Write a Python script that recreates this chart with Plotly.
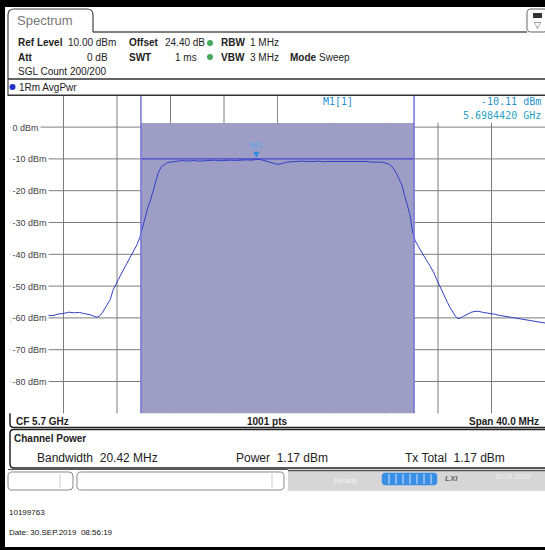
import plotly.graph_objects as go

W, H = 545, 550


def X(p):
    return p / W


def Y(p):
    return 1 - p / H


# ---------------- data ----------------
CF_GHZ = 5.7
SPAN_MHZ = 40.0
REF_LEVEL_DBM = 10.0
BOTTOM_LEVEL_DBM = -90.0
CHANNEL_BW_MHZ = 20.42
MARKER_FREQ_GHZ = 5.6984420
MARKER_LEVEL_DBM = -10.11

offset_mhz = [
    -20.0, -19.6, -19.2, -18.8, -18.4, -18.0, -17.6, -17.2, -16.8, -16.4,
    -16.0, -15.6, -15.2, -14.8, -14.4, -14.0, -13.7, -13.5, -13.3, -13.1,
    -12.9, -12.7, -12.5, -12.3, -12.1, -11.9, -11.7, -11.5, -11.3, -11.1,
    -10.9, -10.7, -10.5, -10.3, -10.1, -9.9, -9.7, -9.5, -9.3, -9.1,
    -8.9, -8.7, -8.5, -8.3,
    -8.0, -7.7, -7.4, -7.1, -6.8, -6.5, -6.2, -5.9, -5.6, -5.3,
    -5.0, -4.7, -4.4, -4.1, -3.8, -3.5, -3.2, -2.9, -2.6, -2.3, -2.0,
    -1.75, -1.45, -1.2, -0.9, -0.6, -0.3, 0.0, 0.3, 0.6,
    1.0, 1.3, 1.6, 1.9, 2.2, 2.5, 2.8, 3.1, 3.4, 3.7, 4.0, 4.3,
    4.6, 4.9, 5.2, 5.5, 5.8, 6.1, 6.4, 6.7, 7.0, 7.3, 7.6, 7.9,
    8.1, 8.3, 8.5, 8.7, 8.9, 9.1, 9.3, 9.5, 9.7, 9.9, 10.1, 10.3,
    10.5, 10.7, 10.9, 11.1, 11.3, 11.5, 11.7, 11.9, 12.1, 12.3, 12.5,
    12.7, 12.9, 13.1, 13.3, 13.5, 13.7, 13.9, 14.1, 14.3, 14.5, 14.7,
    15.0, 15.4, 15.8, 16.2, 16.6, 17.0, 17.4, 17.8, 18.2, 18.6, 19.0,
    19.4, 19.7, 20.0,
]

level_dbm = [
    -61.3, -61.0, -61.4, -60.6, -60.4, -59.9, -59.8, -59.2, -59.3, -58.8,
    -58.6, -58.2, -58.4, -58.3, -58.7, -59.0, -59.5, -59.8, -59.4, -58.4,
    -57.0, -55.6, -54.2, -51.3, -49.4, -48.0, -46.3, -44.8, -43.1, -41.6,
    -40.0, -38.6, -36.9, -34.8, -31.5, -28.5, -25.5, -23.0, -20.0, -16.8,
    -14.2, -12.6, -11.8, -11.3,
    -11.0, -10.8, -10.7, -10.5, -10.7, -10.6, -10.5, -10.7, -10.6, -10.5,
    -10.6, -10.4, -10.6, -10.5, -10.6, -10.4, -10.5, -10.4, -10.5, -10.3, -10.4,
    -10.3, -10.11, -10.3, -10.6, -11.0, -11.4, -11.7, -11.5, -11.1,
    -10.9, -10.8, -10.9, -10.7, -10.8, -10.9, -10.8, -10.7, -10.9, -10.8, -10.8, -10.7,
    -10.9, -10.8, -10.7, -10.8, -10.9, -10.8, -10.9, -10.8, -11.0, -10.9, -11.0, -11.1,
    -11.3, -11.6, -12.2, -13.2, -14.6, -16.3, -18.2, -21.5, -24.2, -27.5, -33.0, -35.8,
    -37.3, -38.9, -40.3, -41.6, -42.9, -44.2, -45.9, -47.9, -49.8, -51.6, -53.4,
    -55.1, -56.7, -58.2, -59.5, -60.2, -60.0, -59.5, -59.0, -58.6, -58.2, -58.0,
    -57.9, -58.3, -58.5, -58.8, -59.2, -59.5, -59.9, -60.2, -60.5, -60.8, -61.0,
    -61.3, -61.4, -61.6,
]

grid_freq_ghz = [5.684, 5.688, 5.692, 5.696, 5.700, 5.704, 5.708, 5.712, 5.716]
y_tick_vals = [0, -10, -20, -30, -40, -50, -60, -70, -80]
y_tick_text = ["0 dBm", "-10 dBm", "-20 dBm", "-30 dBm", "-40 dBm",
               "-50 dBm", "-60 dBm", "-70 dBm", "-80 dBm"]

freq_ghz = [CF_GHZ + o / 1000.0 for o in offset_mhz]
f_start = CF_GHZ - SPAN_MHZ / 2000.0
f_stop = CF_GHZ + SPAN_MHZ / 2000.0
ch_lo = CF_GHZ - CHANNEL_BW_MHZ / 2000.0
ch_hi = CF_GHZ + CHANNEL_BW_MHZ / 2000.0

# ---------------- figure ----------------
PLOT_TOP = 95.3
PLOT_BOT = 413.3
FONT = "Liberation Sans"
MONO = "DejaVu Sans Mono"

fig = go.Figure()
fig.add_trace(go.Scatter(
    x=freq_ghz, y=level_dbm, mode="lines",
    line=dict(color="#3340c8", width=1), hoverinfo="skip", showlegend=False,
))

shapes = []
annotations = []


def rect(x0, y0, x1, y1, fill=None, line=None, lw=1, layer="above"):
    shapes.append(dict(type="rect", xref="paper", yref="paper",
                       x0=X(x0), x1=X(x1), y0=Y(y1), y1=Y(y0),
                       fillcolor=fill if fill else "rgba(0,0,0,0)",
                       line=dict(color=line if line else "rgba(0,0,0,0)", width=lw if line else 0),
                       layer=layer))


def hline(x0, x1, y, color="#333", lw=1, layer="above"):
    shapes.append(dict(type="line", xref="paper", yref="paper",
                       x0=X(x0), x1=X(x1), y0=Y(y), y1=Y(y),
                       line=dict(color=color, width=lw), layer=layer))


def vline(x, y0, y1, color="#333", lw=1, layer="above"):
    shapes.append(dict(type="line", xref="paper", yref="paper",
                       x0=X(x), x1=X(x), y0=Y(y0), y1=Y(y1),
                       line=dict(color=color, width=lw), layer=layer))


def path(d_pts, color="#444", lw=1, fill=None, layer="above"):
    shapes.append(dict(type="path", xref="paper", yref="paper", path=d_pts,
                       line=dict(color=color, width=lw),
                       fillcolor=fill if fill else "rgba(0,0,0,0)", layer=layer))


def P(x, y):
    return f"{X(x):.5f},{Y(y):.5f}"


def rrect(x0, y0, x1, y1, r=4, color="#888", lw=1, fill=None):
    d = (f"M {P(x0 + r, y0)} L {P(x1 - r, y0)} Q {P(x1, y0)} {P(x1, y0 + r)} "
         f"L {P(x1, y1 - r)} Q {P(x1, y1)} {P(x1 - r, y1)} L {P(x0 + r, y1)} "
         f"Q {P(x0, y1)} {P(x0, y1 - r)} L {P(x0, y0 + r)} Q {P(x0, y0)} {P(x0 + r, y0)} Z")
    path(d, color=color, lw=lw, fill=fill)


def txt(x, y, s, size=10, color="#222", anchor="left", family=FONT, bg=None):
    a = dict(xref="paper", yref="paper", x=X(x), y=Y(y), text=s, showarrow=False,
             xanchor=anchor, yanchor="middle",
             font=dict(family=family, size=size, color=color))
    if bg:
        a["bgcolor"] = bg
        a["borderpad"] = 0
    annotations.append(a)


# --- grid lines (drawn as shapes below the channel box)
GRID = "#7c7c7c"
for gx in grid_freq_ghz:
    shapes.append(dict(type="line", xref="x", yref="paper", x0=gx, x1=gx,
                       y0=Y(PLOT_BOT), y1=Y(PLOT_TOP), line=dict(color=GRID, width=1),
                       layer="below"))
for gy in y_tick_vals:
    shapes.append(dict(type="line", xref="paper", yref="y", x0=X(10), x1=1.0,
                       y0=gy, y1=gy, line=dict(color=GRID, width=1), layer="below"))

# --- channel box
shapes.append(dict(type="rect", xref="x", yref="paper", x0=ch_lo, x1=ch_hi,
                   y0=Y(PLOT_BOT), y1=Y(123), fillcolor="#9d9dc6",
                   line=dict(width=0), layer="below"))
shapes.append(dict(type="line", xref="x", yref="y", x0=ch_lo, x1=ch_hi,
                   y0=-10, y1=-10, line=dict(color="#4444cc", width=1.2), layer="below"))

# marker info white cell
rect(278, PLOT_TOP + 0.8, 545, 122.8, fill="white")
vline(277.5, PLOT_TOP, 123, color="#888")
for xc in (ch_lo, ch_hi):
    shapes.append(dict(type="line", xref="x", yref="paper", x0=xc, x1=xc,
                       y0=Y(PLOT_BOT), y1=Y(PLOT_TOP), line=dict(color="#7474d8", width=1.5),
                       layer="above"))

# --- outer frame
rect(0, 0, 545, 7, fill="black")
rect(0, 0, 5, 550, fill="black")
rect(0, 547, 545, 550, fill="black")

# tab
path(f"M {P(8, 32)} L {P(8, 15)} Q {P(8, 9)} {P(14, 9)} L {P(87, 9)} Q {P(93, 9)} {P(93, 15)} L {P(93, 32)}",
     color="#444", lw=1.2)
hline(93, 527, 32, color="#555", lw=1.5)
rrect(527, 9, 548, 32, r=4, color="#666", lw=1, fill="white")
rect(533, 13, 542, 18, fill="#333")
txt(537.5, 25, "▽", size=9, color="#555", anchor="center")
vline(8, 32, 96, color="#444", lw=1.2)
hline(8, 545, 79, color="#333", lw=1.5)
hline(8, 545, PLOT_TOP, color="#333", lw=1.5)
txt(15, 20, "Spectrum", size=13, color="#777")

# header rows
txt(16, 43, "<b>Ref Level</b>", size=10)
txt(66, 43, "10.00 dBm", size=10)
txt(127, 43, "<b>Offset</b>", size=10)
txt(163, 43, "24.40 dB", size=10)
txt(219, 43, "<b>RBW</b>", size=10)
txt(248, 43, "1 MHz", size=10)
txt(16, 57, "<b>Att</b>", size=10)
txt(110, 57, "0 dB", size=10, anchor="right")
txt(127, 57, "<b>SWT</b>", size=10)
txt(199, 57, "1 ms", size=10, anchor="right")
txt(219, 57, "<b>VBW</b>", size=10)
txt(248, 57, "3 MHz", size=10)
txt(288, 57, "<b>Mode</b>", size=10)
txt(317, 57, "Sweep", size=10)
txt(16, 71, "SGL Count 200/200", size=10)
for yy in (43, 57):
    shapes.append(dict(type="circle", xref="paper", yref="paper",
                       x0=X(207), x1=X(213), y0=Y(yy + 3), y1=Y(yy - 3),
                       fillcolor="#45a85a", line=dict(width=0), layer="above"))
shapes.append(dict(type="circle", xref="paper", yref="paper",
                   x0=X(9.5), x1=X(15.5), y0=Y(90), y1=Y(84),
                   fillcolor="#2233cc", line=dict(width=0), layer="above"))
txt(17, 87, "1Rm AvgPwr", size=10)

# y-axis labels inside plot
for v, s in zip(y_tick_vals, y_tick_text):
    annotations.append(dict(xref="paper", yref="y", x=X(10), y=v, text=s, showarrow=False,
                            xanchor="left", yanchor="middle", bgcolor="white", borderpad=1.5,
                            font=dict(family=FONT, size=9, color="#444")))

# marker
annotations.append(dict(xref="x", yref="y", x=MARKER_FREQ_GHZ, y=MARKER_LEVEL_DBM, text="▼",
                        showarrow=False, yshift=5, xanchor="center", yanchor="middle",
                        font=dict(family="DejaVu Sans", size=8, color="#2d8fe0")))
annotations.append(dict(xref="x", yref="y", x=MARKER_FREQ_GHZ, y=MARKER_LEVEL_DBM, text="M1",
                        showarrow=False, yshift=14, xanchor="center", yanchor="middle",
                        font=dict(family=FONT, size=9, color="#5aa6ea")))
txt(338, 102, "M1[1]", size=10, color="#2a8fd0", anchor="center", family=MONO)
txt(543, 102, f"{MARKER_LEVEL_DBM:.2f} dBm", size=10, color="#2a8fd0", anchor="right", family=MONO)
txt(543, 115, f"{MARKER_FREQ_GHZ:.7f} GHz", size=10, color="#2aa4c4", anchor="right", family=MONO)

# bottom info row
path(f"M {P(10, PLOT_BOT)} L {P(10, 424)} Q {P(10, 427.5)} {P(14, 427.5)} L {P(545, 427.5)}",
     color="#222", lw=1.5)
txt(14, 421, f"<b>CF {CF_GHZ:g} GHz</b>", size=10)
txt(267, 421, "<b>1001 pts</b>", size=10, anchor="center")
txt(541, 421, f"<b>Span {SPAN_MHZ:.1f} MHz</b>", size=10, anchor="right")

# channel power box
path(f"M {P(545, 429.5)} L {P(14, 429.5)} Q {P(10, 429.5)} {P(10, 433)} L {P(10, 464)} "
     f"Q {P(10, 468)} {P(14, 468)} L {P(545, 468)}", color="#222", lw=1.5)
txt(12, 438, "<b>Channel Power</b>", size=10)
txt(35, 458, f"Bandwidth  {CHANNEL_BW_MHZ:.2f} MHz", size=12)
txt(234, 458, "Power  1.17 dBm", size=12)
txt(403, 458, "Tx Total  1.17 dBm", size=12)

# status bar
rect(288, 470, 545, 491, fill="#d6d6d6")
hline(288, 545, 470.5, color="#555", lw=1.5)
hline(8, 288, 469.5, color="#555", lw=1)
rrect(8, 472, 73, 490, r=4, color="#888", lw=1, fill="white")
vline(60, 474, 488, color="#ccc")
rrect(77, 472, 284, 490, r=4, color="#888", lw=1, fill="white")
vline(272, 474, 488, color="#ccc")
txt(345, 480, "Ready", size=8, color="#f4f4f4", anchor="center")
rrect(382, 473, 437, 485, r=3, color="#3a8ee6", lw=0.5, fill="#3a8ee6")
for xs in (389, 396, 403, 410, 417, 424, 431):
    vline(xs, 474, 484, color="#cfe3fa", lw=1)
txt(451, 479, "<b><i>LXI</i></b>", size=8, color="#666", anchor="center")
txt(512, 476, "30.09.2019", size=7, color="#f2f2f2", anchor="center")

# footer texts
txt(7, 512, "10199763", size=8, color="#111")
txt(7, 532, "Date: 30.SEP.2019  08:56:19", size=8, color="#111")

fig.update_layout(
    width=W, height=H, margin=dict(l=0, r=0, t=0, b=0),
    paper_bgcolor="white", plot_bgcolor="white",
    shapes=shapes, annotations=annotations, showlegend=False,
    xaxis=dict(domain=[X(10), 1.0], range=[f_start, f_stop], tickvals=grid_freq_ghz,
               showticklabels=False, ticks="", showgrid=False,
               zeroline=False, showline=False, fixedrange=True),
    yaxis=dict(domain=[Y(PLOT_BOT), Y(PLOT_TOP)], range=[BOTTOM_LEVEL_DBM, REF_LEVEL_DBM],
               tickvals=y_tick_vals, showticklabels=False, ticks="", showgrid=False,
               zeroline=False, showline=False, fixedrange=True),
)

fig.write_html(
    "out.html",
    config={"displayModeBar": False},
    post_script="document.body.style.margin='0';document.body.style.overflow='hidden';",
)
